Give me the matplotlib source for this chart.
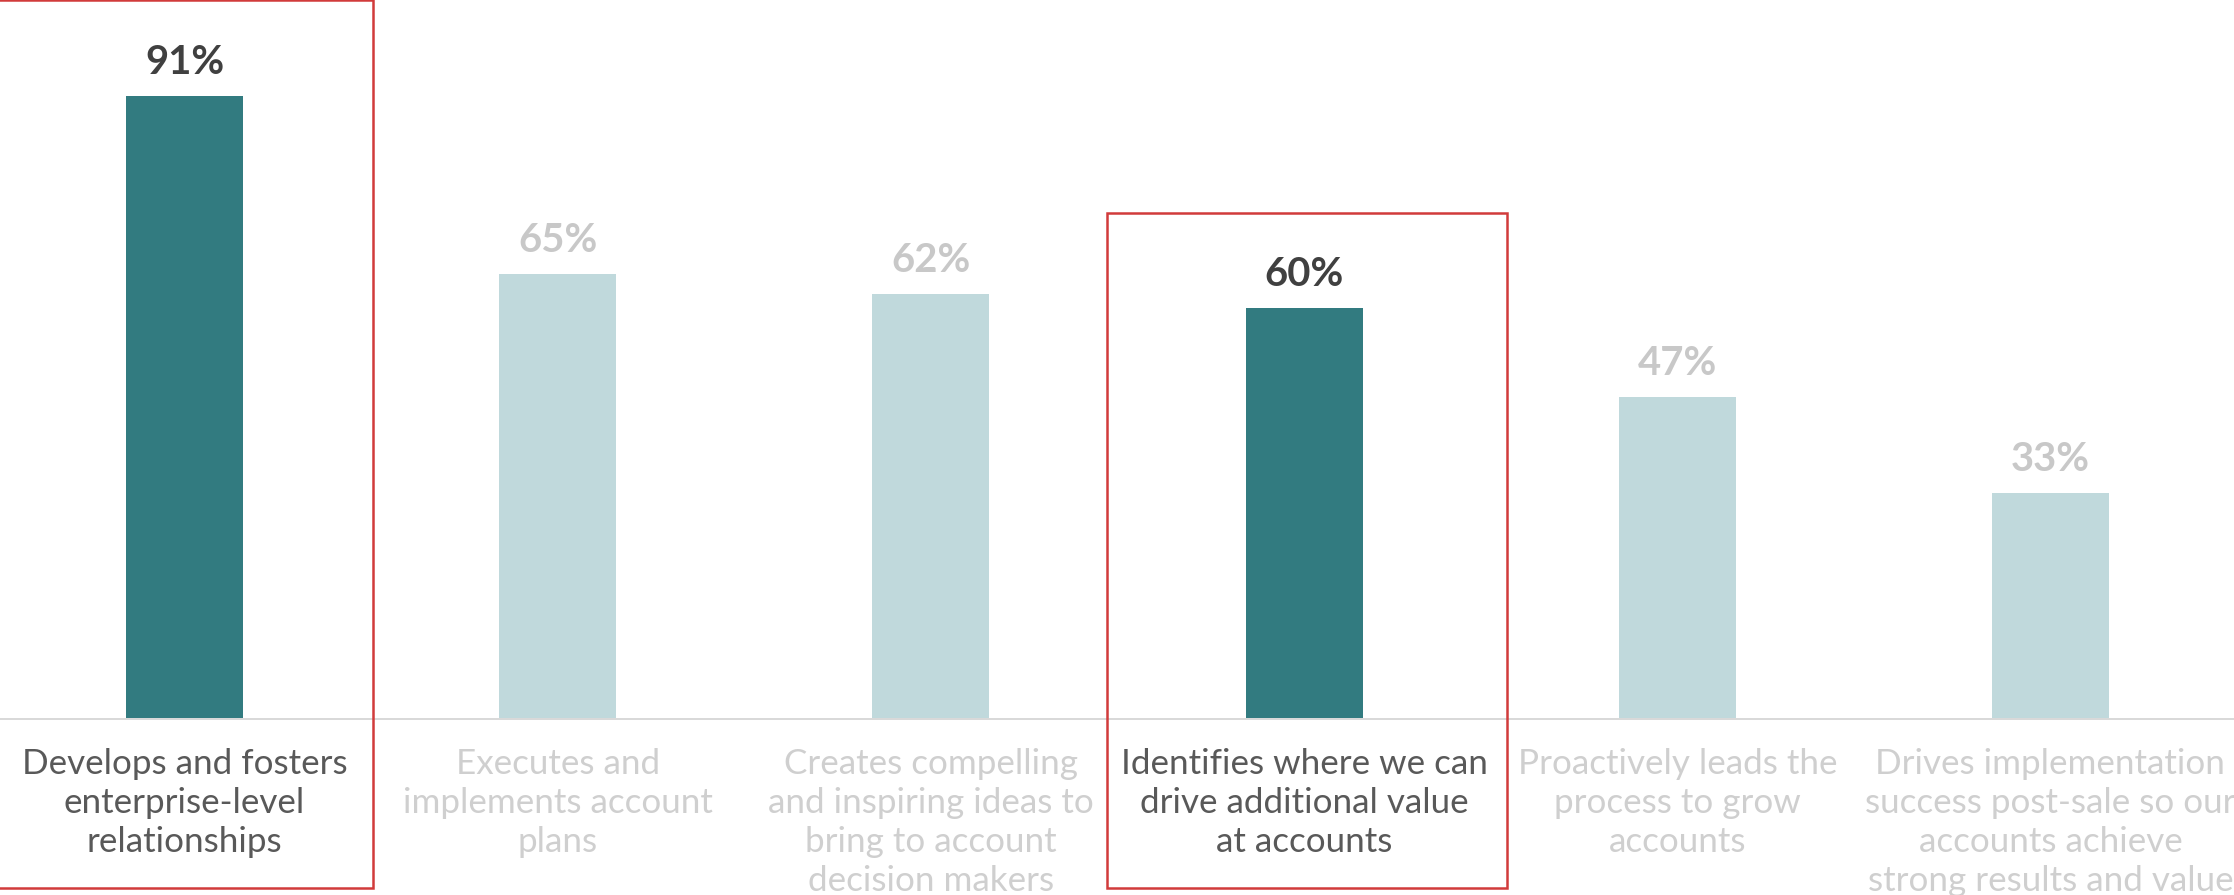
import matplotlib.pyplot as plt
from matplotlib.patches import Rectangle
from matplotlib.transforms import blended_transform_factory

labels = [
    "Develops and fosters\nenterprise-level\nrelationships",
    "Executes and\nimplements account\nplans",
    "Creates compelling\nand inspiring ideas to\nbring to account\ndecision makers",
    "Identifies where we can\ndrive additional value\nat accounts",
    "Proactively leads the\nprocess to grow\naccounts",
    "Drives implementation\nsuccess post-sale so our\naccounts achieve\nstrong results and value",
]
values = [91, 65, 62, 60, 47, 33]
highlight = [True, False, False, True, False, False]

DARK_BAR, LIGHT_BAR = "#327b80", "#c0d9dc"
DARK_TXT, LIGHT_TXT = "#404040", "#c8c8c8"
DARK_LBL, LIGHT_LBL = "#595959", "#cfcfcf"
BOX_RED = "#d13b3b"

W, H, DPI = 2234, 895, 72
fig = plt.figure(figsize=(W / DPI, H / DPI), dpi=DPI)
ax = fig.add_axes([-2 / W, 176 / H, 2239 / W, 719 / H])

x = list(range(len(values)))
colors = [DARK_BAR if h else LIGHT_BAR for h in highlight]
ax.bar(x, values, width=0.3135, color=colors, zorder=2)
ax.set_xlim(-0.5, 5.5)
ax.set_ylim(0, 105.0)

for s in ["top", "left", "right"]:
    ax.spines[s].set_visible(False)
ax.spines["bottom"].set_color("#d9d9d9")
ax.spines["bottom"].set_linewidth(2)
ax.set_xticks([])
ax.set_yticks([])

for i, (v, h) in enumerate(zip(values, highlight)):
    ax.annotate(f"{v}%", (i, v), xytext=(0, 22), textcoords="offset points",
                ha="center", va="baseline", fontsize=40, fontweight="bold",
                family="Lato", color=DARK_TXT if h else LIGHT_TXT)
    ax.annotate(labels[i], (i, 0), xytext=(0, -29), textcoords="offset points",
                ha="center", va="top", fontsize=35, family="Lato",
                linespacing=1.27,
                color=DARK_LBL if h else LIGHT_LBL, annotation_clip=False)

# red outlines around the highlighted categories
trans = blended_transform_factory(ax.transData, fig.transFigure)
boxes = [(-0.5, 0.505, 1.0), (2.473, 3.545, (H - 213) / H)]
for x0, x1, top in boxes:
    bottom = 7 / H
    fig.add_artist(Rectangle((x0, bottom), x1 - x0, top - bottom, transform=trans,
                             fill=False, edgecolor=BOX_RED, linewidth=2.5))

fig.savefig("out.png", dpi=DPI)
